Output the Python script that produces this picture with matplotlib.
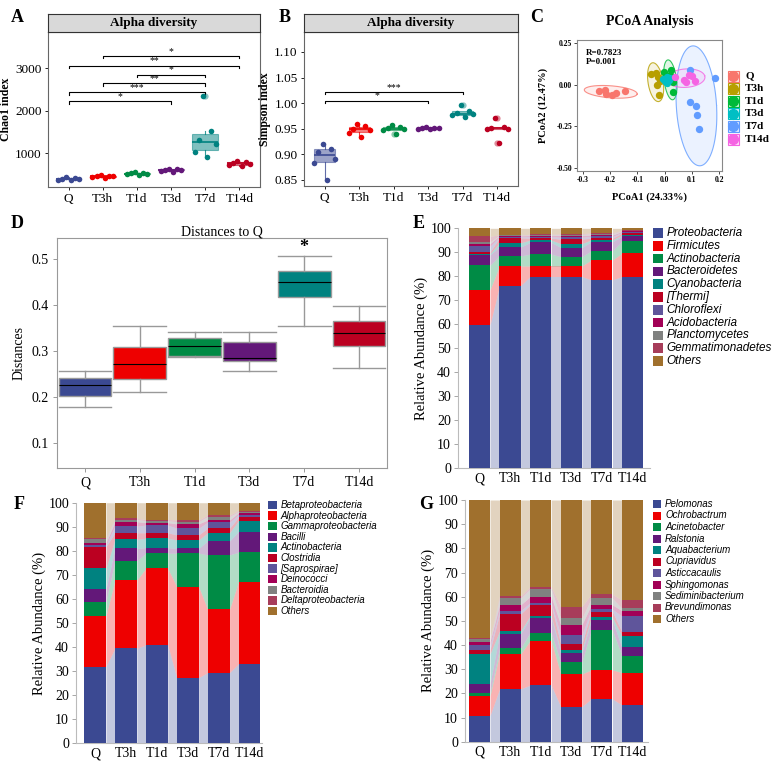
import numpy as np
import matplotlib
matplotlib.use("Agg")
import matplotlib.pyplot as plt
from matplotlib.patches import Rectangle
from matplotlib.lines import Line2D

plt.rcParams['axes.unicode_minus'] = False
SERIF = 'Liberation Serif'
SANS = 'Liberation Sans'
plt.rcParams['font.family'] = [SERIF, 'DejaVu Serif']

# ---------------- data ----------------
groups = ['Q', 'T3h', 'T1d', 'T3d', 'T7d', 'T14d']
aaas = ['#3B4992', '#EE0000', '#008B45', '#631879', '#008280', '#BB0021']

chao1 = [
    [355, 375, 390, 400, 415, 440],
    [420, 440, 455, 460, 470, 480],
    [480, 500, 515, 520, 530, 560],
    [560, 585, 600, 605, 615, 625],
    [900, 1015, 1220, 1300, 1510, 2350],
    [690, 720, 750, 765, 790, 805],
]
chao1_sig = [(2, 6, 3289, '*'), (1, 6, 3061, '**'), (3, 5, 2849, '*'),
             (2, 5, 2647, '**'), (1, 5, 2435, '***'), (1, 4, 2214, '*')]

simpson = [
    [0.849, 0.882, 0.891, 0.905, 0.911, 0.920],
    [0.934, 0.942, 0.947, 0.950, 0.955, 0.960],
    [0.940, 0.947, 0.949, 0.951, 0.953, 0.958],
    [0.950, 0.950, 0.951, 0.952, 0.952, 0.954],
    [0.972, 0.976, 0.978, 0.981, 0.985, 0.996],
    [0.922, 0.949, 0.950, 0.951, 0.953, 0.971],
]
simpson_sig = [(1, 5, 1.022, '***'), (1, 4, 1.005, '*')]

pcoa_colors = ['#F8766D', '#B79F00', '#00BA38', '#00BFC4', '#619CFF', '#F564E3']
pcoa_x = [
    [-0.24, -0.22, -0.215, -0.195, -0.18, -0.145],
    [-0.051, -0.032, -0.023, -0.017, -0.027, -0.021],
    [0.025, 0.01, 0.03, 0.032, -0.002, 0.02],
    [-0.005, 0.0, 0.008, 0.015, 0.02, 0.01],
    [0.095, 0.185, 0.095, 0.115, 0.12, 0.125],
    [0.04, 0.07, 0.08, 0.09, 0.1, 0.11],
]
pcoa_y = [
    [-0.037, -0.031, -0.055, -0.061, -0.048, -0.037],
    [0.063, 0.069, 0.048, 0.022, -0.001, -0.061],
    [0.088, 0.04, 0.016, -0.045, 0.075, 0.06],
    [0.035, 0.02, 0.045, 0.03, 0.04, 0.01],
    [0.085, 0.04, -0.105, -0.13, -0.18, -0.265],
    [0.045, 0.03, 0.015, 0.06, 0.05, 0.02],
]
# ellipse centre, semi-axes and tilt (data units / degrees)
ell_cx = [-0.198, -0.033, 0.021, 0.007, 0.117, 0.078]
ell_cy = [-0.043, 0.015, 0.029, 0.028, -0.127, 0.039]
ell_a = [0.098, 0.028, 0.023, 0.028, 0.074, 0.071]
ell_b = [0.036, 0.117, 0.120, 0.026, 0.360, 0.055]
ell_ang = [-8, 5, 4, 0, 2, 12]

dist_med = [0.225, 0.271, 0.310, 0.285, 0.451, 0.340]
dist_q1 = [0.202, 0.239, 0.289, 0.279, 0.418, 0.311]
dist_q3 = [0.240, 0.308, 0.328, 0.320, 0.474, 0.366]
dist_lo = [0.177, 0.211, 0.287, 0.257, 0.355, 0.262]
dist_hi = [0.256, 0.355, 0.342, 0.342, 0.506, 0.397]

phylum_names = ['Proteobacteria', 'Firmicutes', 'Actinobacteria', 'Bacteroidetes',
                'Cyanobacteria', '[Thermi]', 'Chloroflexi', 'Acidobacteria',
                'Planctomycetes', 'Gemmatimonadetes', 'Others']
phylum = [  # rows: taxa, columns: samples Q..T14d
    [59.7, 76.1, 79.9, 79.9, 78.5, 79.9],
    [14.6, 8.2, 4.4, 4.4, 8.3, 9.7],
    [10.3, 4.2, 4.9, 3.9, 3.8, 5.0],
    [4.4, 3.7, 4.9, 3.8, 3.8, 2.1],
    [0.5, 1.7, 1.0, 1.6, 0.8, 0.4],
    [0.6, 2.1, 0.8, 1.9, 0.7, 0.9],
    [2.4, 0.5, 0.6, 0.8, 0.7, 0.3],
    [1.1, 0.4, 0.5, 0.7, 0.6, 0.4],
    [0.7, 0.2, 0.3, 0.4, 0.6, 0.2],
    [2.4, 0.2, 0.2, 0.3, 0.4, 0.2],
    [3.3, 2.7, 2.5, 2.3, 1.8, 0.9],
]
class_names = ['Betaproteobacteria', 'Alphaproteobacteria', 'Gammaproteobacteria',
               'Bacilli', 'Actinobacteria', 'Clostridia', '[Saprospirae]',
               'Deinococci', 'Bacteroidia', 'Deltaproteobacteria', 'Others']
class_ = [
    [31.9, 39.5, 40.9, 27.3, 29.4, 33.0],
    [21.0, 28.3, 31.8, 37.8, 26.3, 34.2],
    [6.0, 8.0, 6.3, 13.9, 22.6, 12.2],
    [5.2, 5.2, 2.3, 2.0, 5.8, 8.6],
    [8.6, 3.8, 3.9, 3.5, 3.4, 4.5],
    [9.0, 2.7, 2.3, 2.1, 1.9, 1.4],
    [0.8, 2.8, 3.2, 2.8, 2.5, 1.1],
    [0.8, 1.8, 1.0, 1.8, 0.9, 0.8],
    [1.6, 0.9, 0.8, 0.9, 1.4, 0.5],
    [0.5, 0.5, 0.5, 0.7, 0.7, 0.4],
    [14.6, 6.5, 7.0, 7.2, 5.1, 3.3],
]
genus_names = ['Pelomonas', 'Ochrobactrum', 'Acinetobacter', 'Ralstonia',
               'Aquabacterium', 'Cupriavidus', 'Asticcacaulis', 'Sphingomonas',
               'Sediminibacterium', 'Brevundimonas', 'Others']
genus = [
    [10.8, 21.8, 23.4, 14.5, 17.7, 15.2],
    [8.2, 14.5, 18.4, 13.5, 12.0, 13.4],
    [1.3, 2.3, 3.3, 4.8, 16.5, 7.0],
    [3.6, 6.0, 6.2, 3.8, 4.1, 3.4],
    [12.4, 1.2, 0.7, 1.3, 1.1, 4.9],
    [1.6, 7.0, 4.6, 2.5, 2.4, 1.6],
    [2.1, 1.4, 0.9, 3.7, 1.0, 6.5],
    [1.4, 2.4, 2.5, 4.2, 1.8, 2.2],
    [0.9, 2.7, 3.2, 2.7, 2.7, 1.0],
    [0.5, 1.0, 0.9, 4.9, 1.7, 3.4],
    [57.2, 39.7, 35.9, 44.1, 39.0, 41.4],
]
taxa_colors = ['#3B4992', '#EE0000', '#008B45', '#631879', '#008280', '#BB0021',
               '#5F559B', '#A20056', '#808180', '#A73D5A', '#A0702D']

# ---------------- figure ----------------
W, H = 775, 761
fig = plt.figure(figsize=(W / 100, H / 100), dpi=100)


def ax_px(x0, y0, x1, y1):
    return fig.add_axes([x0 / W, 1 - y1 / H, (x1 - x0) / W, (y1 - y0) / H])


def ftext(x, y, s, **kw):
    fig.text(x / W, 1 - y / H, s, **kw)


def panel_letter(x, y, s):
    ftext(x, y, s, fontsize=13, fontweight='bold', ha='center', va='center', family=SERIF)


# ---- A & B: alpha diversity ----
jit_order = [3, 0, 5, 1, 4, 2]


def alpha_panel(box, ylabel, data, sig, ylim, yticks, fmt, tip, width, jspan):
    x0, y0, x1, y1 = box
    ax = ax_px(x0, y0, x1, y1)
    st = ax_px(x0, y0 - 18, x1, y0)
    st.set_facecolor('#D9D9D9')
    st.set_xticks([]); st.set_yticks([])
    for s in st.spines.values():
        s.set_color('#333333'); s.set_linewidth(0.8)
    st.text(0.5, 0.5, 'Alpha diversity', transform=st.transAxes, ha='center', va='center',
            fontsize=9.5, fontweight='bold')
    jit = np.linspace(-jspan, jspan, 6)[jit_order]
    for i, (vals, c) in enumerate(zip(data, aaas)):
        pos = i + 1
        ax.boxplot([vals], positions=[pos], widths=width, patch_artist=True,
                   showcaps=False,
                   boxprops=dict(facecolor=c, edgecolor=c, alpha=0.5, linewidth=0.8),
                   medianprops=dict(color=c, linewidth=1.2),
                   whiskerprops=dict(color=c, linewidth=0.8, alpha=0.8),
                   flierprops=dict(marker='o', markerfacecolor=c, markeredgecolor='none',
                                   alpha=0.45, markersize=4.5))
        ax.scatter(pos + jit, vals, s=16, color=c, zorder=4, linewidths=0)
    for a, b, y, lab in sig:
        ax.plot([a, a, b, b], [y - tip, y, y, y - tip], color='black', lw=0.8)
        ax.text((a + b) / 2, y, lab, ha='center', va='bottom', fontsize=7)
    ax.set_xlim(0.4, 6.6)
    ax.set_ylim(*ylim)
    ax.set_yticks(yticks)
    ax.set_yticklabels([fmt.format(v) for v in yticks], fontsize=9.5)
    ax.set_xticks(range(1, 7))
    ax.set_xticklabels(groups, fontsize=9.5)
    ax.tick_params(length=2.5, width=0.6, pad=2)
    for s in ax.spines.values():
        s.set_color('#666666'); s.set_linewidth(0.8)
    ax.set_ylabel(ylabel, fontsize=8.5, fontweight='bold', labelpad=2)
    return ax


alpha_panel((48, 32, 260, 187), 'Chao1 index', chao1, chao1_sig, (200, 3850),
            [1000, 2000, 3000], '{:.0f}', 60, 0.75, 0.3)
alpha_panel((304, 32, 518, 186), 'Simpson index', simpson, simpson_sig, (0.838, 1.139),
            [0.85, 0.90, 0.95, 1.00, 1.05, 1.10], '{:.2f}', 0.004, 0.6, 0.3)
panel_letter(17, 17, 'A')
panel_letter(285, 17, 'B')

# ---- C: PCoA ----
axc = ax_px(577, 40, 722, 171)
tt = np.linspace(0, 2 * np.pi, 200)
for i, c in enumerate(pcoa_colors):
    ph = np.deg2rad(ell_ang[i])
    ex = ell_cx[i] + ell_a[i] * np.cos(tt) * np.cos(ph) - ell_b[i] * np.sin(tt) * np.sin(ph)
    ey = ell_cy[i] + ell_a[i] * np.cos(tt) * np.sin(ph) + ell_b[i] * np.sin(tt) * np.cos(ph)
    axc.fill(ex, ey, color=c, alpha=0.12, lw=0)
    axc.plot(ex, ey, color=c, lw=0.8, alpha=0.8)
for i, c in enumerate(pcoa_colors):
    axc.scatter(pcoa_x[i], pcoa_y[i], s=28, color=c, zorder=4, linewidths=0)
axc.set_xlim(-0.322, 0.211)
axc.set_ylim(-0.518, 0.268)
xt = [-0.3, -0.2, -0.1, 0.0, 0.1, 0.2]
yt = [-0.5, -0.25, 0.0, 0.25]
axc.set_xticks(xt)
axc.set_xticklabels(['{:.1f}'.format(v) for v in xt], fontsize=5.5, fontweight='bold')
axc.set_yticks(yt)
axc.set_yticklabels(['{:.2f}'.format(v) for v in yt], fontsize=5.5, fontweight='bold')
axc.tick_params(length=2, width=0.5, pad=1.5)
for s in axc.spines.values():
    s.set_color('#888888'); s.set_linewidth(0.8)
axc.text(0.06, 0.935, 'R=0.7823\nP=0.001', transform=axc.transAxes, fontsize=6.5,
         fontweight='bold', va='top', linespacing=1.2)
axc.set_xlabel('PCoA1 (24.33%)', fontsize=7.5, fontweight='bold', labelpad=6)
axc.set_ylabel('PCoA2 (12.47%)', fontsize=7.5, fontweight='bold', labelpad=6)
ftext(650, 21, 'PCoA Analysis', fontsize=10, fontweight='bold', ha='center', va='center')
for i, (g, c) in enumerate(zip(groups, pcoa_colors)):
    yc = 76 + i * 12.6
    fig.add_artist(Rectangle(((733 - 5.5) / W, 1 - (yc + 5.5) / H), 11 / W, 11 / H,
                             transform=fig.transFigure, facecolor=c + '33', edgecolor=c, lw=0.8))
    fig.add_artist(Line2D([733 / W], [1 - yc / H], marker='o', markersize=7,
                          color=c, transform=fig.transFigure, lw=0))
    ftext(745, yc, g, fontsize=8, fontweight='bold', va='center')
panel_letter(537, 17, 'C')

# ---- D: distances ----
axd = ax_px(57, 238, 387, 468)
stats = [dict(med=dist_med[i], q1=dist_q1[i], q3=dist_q3[i], whislo=dist_lo[i],
              whishi=dist_hi[i], fliers=[]) for i in range(6)]
bpd = axd.bxp(stats, positions=range(1, 7), widths=0.96, patch_artist=True,
              capwidths=0.96,
              boxprops=dict(edgecolor='#999999', linewidth=1.0),
              medianprops=dict(color='black', linewidth=0.8),
              whiskerprops=dict(color='#999999', linewidth=1.0),
              capprops=dict(color='#999999', linewidth=1.0))
for patch, c in zip(bpd['boxes'], aaas):
    patch.set_facecolor(c)
axd.text(5, 0.506, '*', ha='center', va='bottom', fontsize=13, fontweight='bold')
axd.set_xlim(0.49, 6.51)
axd.set_ylim(0.045, 0.546)
axd.set_yticks([0.1, 0.2, 0.3, 0.4, 0.5])
axd.set_yticklabels(['0.1', '0.2', '0.3', '0.4', '0.5'], fontsize=10)
axd.set_xticks(range(1, 7))
axd.set_xticklabels(groups, fontsize=10)
axd.tick_params(length=3, width=0.6, color='#888888', pad=3)
for s in axd.spines.values():
    s.set_color('#999999'); s.set_linewidth(0.8)
axd.set_ylabel('Distances', fontsize=10, labelpad=4)
axd.set_title('Distances to Q', fontsize=10, pad=2)
panel_letter(17, 223, 'D')


# ---- E, F, G: stacked bars with alluvial bands ----
def stacked_panel(box, xlim, width, data, names, legend, fs_leg):
    x0, y0, x1, y1 = box
    ax = ax_px(x0, y0, x1, y1)
    d = np.array(data, dtype=float)
    n = d.shape[1]
    xs = np.arange(n)
    tops = np.cumsum(d, axis=0)
    bots = tops - d
    for k in range(d.shape[0]):
        c = taxa_colors[k]
        ax.bar(xs, d[k], width, bottom=bots[k], color=c, lw=0, zorder=3)
        for i in range(n - 1):
            bx = [i + width / 2, i + 1 - width / 2]
            ax.fill_between(bx, [bots[k][i], bots[k][i + 1]], [tops[k][i], tops[k][i + 1]],
                            color=c, alpha=0.3, lw=0, zorder=2)
    ax.set_xlim(*xlim)
    ax.set_ylim(0, 100)
    ax.set_yticks(range(0, 101, 10))
    ax.set_yticklabels([str(v) for v in range(0, 101, 10)], fontsize=10)
    ax.set_xticks(xs)
    ax.set_xticklabels(groups, fontsize=10)
    ax.tick_params(axis='y', length=3, width=0.6, color='#999999', pad=2)
    ax.tick_params(axis='x', length=0, pad=3)
    for s in ['top', 'right']:
        ax.spines[s].set_visible(False)
    for s in ['left', 'bottom']:
        ax.spines[s].set_color('#BBBBBB'); ax.spines[s].set_linewidth(0.8)
    ax.set_ylabel('Relative Abundance (%)', fontsize=10.5, labelpad=2)
    lx, ly, dy, sq = legend
    for i, (nm, c) in enumerate(zip(names, taxa_colors)):
        yc = ly + i * dy
        fig.add_artist(Rectangle((lx / W, 1 - (yc + sq / 2) / H), sq / W, sq / H,
                                 transform=fig.transFigure, facecolor=c, lw=0))
        fig.text((lx + sq + 4) / W, 1 - yc / H, nm, fontsize=fs_leg, style='italic',
                 family=[SANS, 'DejaVu Sans'], va='center')
    return ax


stacked_panel((458, 228.3, 650, 468.3), (-0.70, 5.57), 0.69, phylum, phylum_names,
              (653, 233, 12.8, 9.5), 8.5)
panel_letter(419, 224, 'E')
stacked_panel((76, 502.7, 262, 743.3), (-0.615, 5.405), 0.71, class_, class_names,
              (268, 505, 10.6, 8.5), 7)
panel_letter(19, 504, 'F')
stacked_panel((465, 500, 648, 741.7), (-0.474, 5.51), 0.69, genus, genus_names,
              (653, 504, 11.5, 8), 7)
panel_letter(426, 504, 'G')

fig.savefig('out.png', dpi=100)
